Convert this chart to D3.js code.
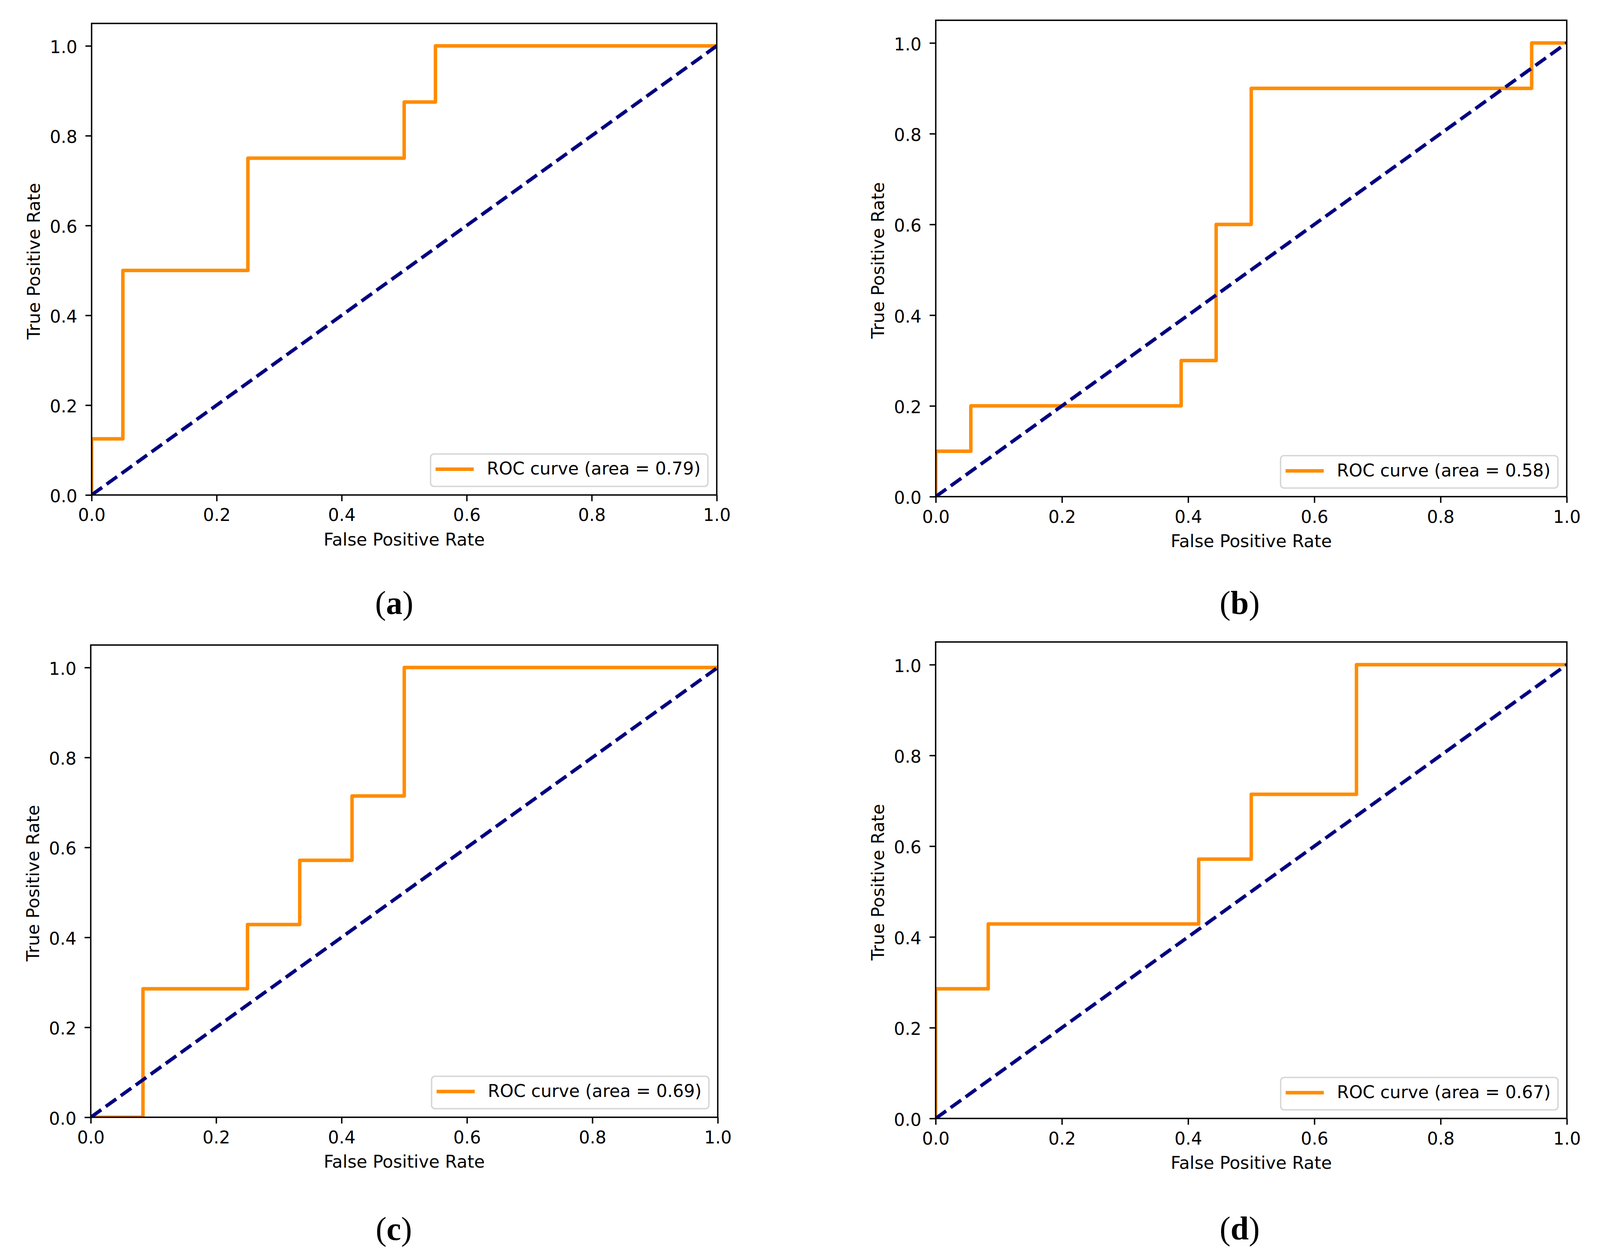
<!DOCTYPE html>
<html><head><meta charset="utf-8">
<script src="https://cdn.jsdelivr.net/npm/d3@7"></script>
<style>html,body{margin:0;padding:0;background:#fff;overflow:hidden;} svg{display:block;width:100vw;height:100vh;}</style>
</head><body>
<script>
// ---- data ----
const captions = ["a", "b", "c", "d"];
const aucValues = ["0.79", "0.58", "0.69", "0.67"];
const tickValues = [0, 0.2, 0.4, 0.6, 0.8, 1.0];
const diagX = [0, 1];
const diagY = [0, 1];

const fprA = [0, 0, 0.05, 0.05, 0.25, 0.25, 0.5, 0.5, 0.55, 0.55, 1];
const tprA = [0, 0.125, 0.125, 0.5, 0.5, 0.75, 0.75, 0.875, 0.875, 1, 1];

const fprB = [0, 0, 0.0556, 0.0556, 0.3889, 0.3889, 0.4444, 0.4444, 0.5, 0.5, 0.9444, 0.9444, 1];
const tprB = [0, 0.1, 0.1, 0.2, 0.2, 0.3, 0.3, 0.6, 0.6, 0.9, 0.9, 1, 1];

const fprC = [0, 0.0833, 0.0833, 0.25, 0.25, 0.3333, 0.3333, 0.4167, 0.4167, 0.5, 0.5, 1];
const tprC = [0, 0, 0.2857, 0.2857, 0.4286, 0.4286, 0.5714, 0.5714, 0.7143, 0.7143, 1, 1];

const fprD = [0, 0, 0.0833, 0.0833, 0.4167, 0.4167, 0.5, 0.5, 0.6667, 0.6667, 1];
const tprD = [0, 0.2857, 0.2857, 0.4286, 0.4286, 0.5714, 0.5714, 0.7143, 0.7143, 1, 1];

const seriesFpr = [fprA, fprB, fprC, fprD];
const seriesTpr = [tprA, tprB, tprC, tprD];

// ---- layout (pixel geometry of each panel) ----
const layout = [
  {x0: 237.7, x1: 1860,   y0: 1267.5, y1: 117.5,  cx: 1023, cy: 1572},
  {x0: 2428.3, x1: 4065.7, y0: 1271.7, y1: 110,   cx: 3217, cy: 1572},
  {x0: 235.5, x1: 1862.6, y0: 2861,   y1: 1709.3, cx: 1022, cy: 3175},
  {x0: 2428,  x1: 4066,   y0: 2864,   y1: 1702,   cx: 3217, cy: 3174}
];

const W = 4152, H = 3206;
const FONT = "DejaVu Sans";
const FS = 45;
const svg = d3.select("body").append("svg")
  .attr("viewBox", `0 0 ${W} ${H}`)
  .attr("preserveAspectRatio", "none");
svg.append("rect").attr("width", W).attr("height", H).attr("fill", "#fff");

captions.forEach((cap, i) => {
  const L = layout[i];
  const x = d3.scaleLinear().domain([0, 1]).range([L.x0, L.x1]);
  const y = d3.scaleLinear().domain([0, 1]).range([L.y0, L.y1]);
  const top = y(1.05);
  const g = svg.append("g");

  g.append("clipPath").attr("id", "clip" + i)
    .append("rect").attr("x", L.x0).attr("y", top)
    .attr("width", L.x1 - L.x0).attr("height", L.y0 - top);

  const line = d3.line().x(d => x(d[0])).y(d => y(d[1]));

  // ROC curve
  g.append("path")
    .datum(d3.zip(seriesFpr[i], seriesTpr[i]))
    .attr("d", line)
    .attr("fill", "none")
    .attr("stroke", "#FF8C00")
    .attr("stroke-width", 9)
    .attr("stroke-linejoin", "round")
    .attr("stroke-linecap", "square")
    .attr("clip-path", `url(#clip${i})`);

  // chance diagonal
  g.append("path")
    .datum(d3.zip(diagX, diagY))
    .attr("d", line)
    .attr("fill", "none")
    .attr("stroke", "#000080")
    .attr("stroke-width", 9)
    .attr("stroke-dasharray", "33.3 14.4")
    .attr("stroke-linecap", "butt")
    .attr("clip-path", `url(#clip${i})`);

  // axes
  const fmt = d3.format(".1f");
  const gx = g.append("g").attr("transform", `translate(0,${L.y0})`)
    .call(d3.axisBottom(x).tickValues(tickValues).tickFormat(fmt)
      .tickSize(16).tickPadding(19).tickSizeOuter(0));
  gx.select(".domain").remove();
  gx.attr("font-size", FS).attr("font-family", FONT).attr("color", "#000");
  gx.selectAll(".tick line").attr("stroke-width", 3.6);

  const gy = g.append("g").attr("transform", `translate(${L.x0},0)`)
    .call(d3.axisLeft(y).tickValues(tickValues).tickFormat(fmt)
      .tickSize(16).tickPadding(21).tickSizeOuter(0));
  gy.select(".domain").remove();
  gy.attr("font-size", FS).attr("font-family", FONT).attr("color", "#000");
  gy.selectAll(".tick line").attr("stroke-width", 3.6);
  gy.selectAll(".tick text").attr("dy", "0.4em");

  // frame
  g.append("rect")
    .attr("x", L.x0).attr("y", top)
    .attr("width", L.x1 - L.x0).attr("height", L.y0 - top)
    .attr("fill", "none").attr("stroke", "#000").attr("stroke-width", 3.6);

  // axis titles
  g.append("text")
    .attr("x", (L.x0 + L.x1) / 2).attr("y", L.y0 + 129.5)
    .attr("text-anchor", "middle")
    .attr("font-family", FONT).attr("font-size", FS).attr("fill", "#000")
    .text("False Positive Rate");
  g.append("text")
    .attr("transform", `translate(${L.x0 - 134},${(top + L.y0) / 2 + 5}) rotate(-90)`)
    .attr("text-anchor", "middle")
    .attr("font-family", FONT).attr("font-size", FS).attr("fill", "#000")
    .text("True Positive Rate");

  // legend
  const lg = g.append("g");
  const lrect = lg.append("rect");
  const ltext = lg.append("text")
    .attr("font-family", FONT).attr("font-size", FS).attr("fill", "#000")
    .text(`ROC curve (area = ${aucValues[i]})`);
  const tw = ltext.node().getComputedTextLength();
  const right = L.x1 - 23, bottom = L.y0 - 22, lh = 83;
  const left = right - (146 + tw + 19);
  const ltop = bottom - lh;
  lrect.attr("x", left).attr("y", ltop).attr("width", right - left).attr("height", lh)
    .attr("rx", 9).attr("ry", 9)
    .attr("fill", "#fff").attr("fill-opacity", 0.8)
    .attr("stroke", "#d6d6d6").attr("stroke-width", 3.6);
  lg.append("line")
    .attr("x1", left + 17.5).attr("x2", left + 107.5)
    .attr("y1", ltop + 39).attr("y2", ltop + 39)
    .attr("stroke", "#FF8C00").attr("stroke-width", 9).attr("stroke-linecap", "square");
  ltext.attr("x", left + 146).attr("y", ltop + 53);

  // caption
  const ct = svg.append("text")
    .attr("x", L.cx).attr("y", L.cy)
    .attr("text-anchor", "middle")
    .attr("font-family", "Liberation Serif").attr("font-size", 85).attr("fill", "#000");
  ct.append("tspan").text("(");
  ct.append("tspan").attr("font-weight", "bold").text(cap);
  ct.append("tspan").text(")");
});
</script>
</body></html>
